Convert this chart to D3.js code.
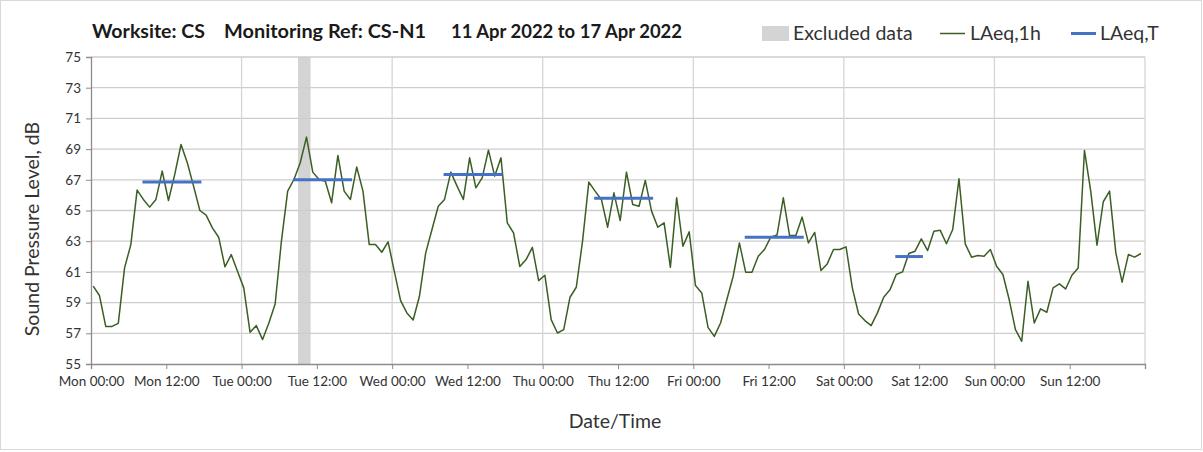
<!DOCTYPE html>
<html><head><meta charset="utf-8">
<script src="https://cdn.jsdelivr.net/npm/d3@7"></script>
<style>body{margin:0;background:#fff;font-family:Lato,"Open Sans",sans-serif;}</style>
</head><body><svg id="c" width="1203" height="452"></svg>
<script>
// ---- data ----
const laeq1h = [60.07,59.46,57.45,57.45,57.65,61.26,62.78,66.33,65.72,65.22,65.72,67.57,65.65,67.35,69.30,68.11,66.59,65.00,64.70,63.87,
63.26,61.33,62.13,61.04,59.96,57.07,57.50,56.59,57.67,58.91,63.00,66.26,67.02,68.11,69.78,67.50,67.02,66.91,65.50,68.59,
66.26,65.72,67.83,66.26,62.78,62.78,62.28,62.96,61.04,59.13,58.33,57.87,59.41,62.24,63.76,65.28,65.72,67.50,66.59,65.72,
68.43,66.48,67.13,68.93,67.24,68.43,64.20,63.54,61.35,61.80,62.60,60.43,60.78,57.89,57.02,57.24,59.35,60.00,63.00,66.85,
66.26,65.72,63.91,66.15,64.35,67.50,65.39,65.28,66.96,64.96,63.91,64.20,61.30,65.83,62.67,63.61,60.11,59.63,57.39,56.80,
57.67,59.20,60.70,62.89,60.98,60.98,62.02,62.46,63.26,63.40,65.83,63.37,63.37,64.57,62.89,63.57,61.09,61.52,62.46,62.46,
62.63,59.96,58.26,57.83,57.50,58.33,59.35,59.83,60.83,61.00,62.20,62.35,63.15,62.39,63.65,63.72,62.83,63.76,67.07,62.83,
61.96,62.07,62.02,62.46,61.37,60.83,59.20,57.24,56.48,60.39,57.67,58.59,58.37,59.96,60.22,59.89,60.78,61.26,68.91,66.26,
62.74,65.57,66.26,62.24,60.33,62.13,61.96,62.20];
const hourOffset = 0.35;              // timestamp offset of hourly values within each hour
const laeqTStart = [8.2, 32.2, 56.2, 80.2, 104.2, 128.2];
const laeqTEnd   = [17.6, 41.6, 65.6, 89.6, 113.6, 132.6];
const laeqTValues = [66.85, 67.0, 67.35, 65.8, 63.25, 62.0];
const excludedPeriod = [33, 35];
const xTickLabels = ["Mon 00:00","Mon 12:00","Tue 00:00","Tue 12:00","Wed 00:00","Wed 12:00","Thu 00:00","Thu 12:00",
  "Fri 00:00","Fri 12:00","Sat 00:00","Sat 12:00","Sun 00:00","Sun 12:00",""];
const yTicks = [55,57,59,61,63,65,67,69,71,73,75];
const titleParts = ["Worksite: CS","Monitoring Ref: CS-N1","11 Apr 2022 to 17 Apr 2022"];
const legendLabels = ["Excluded data","LAeq,1h","LAeq,T"];

// ---- drawing ----
const svg = d3.select("#c");
const F = "Lato, 'Open Sans', sans-serif";
svg.append("rect").attr("x",0.5).attr("y",0.5).attr("width",1201).attr("height",449)
  .attr("fill","#fff").attr("stroke","#d9d9d9");

const x = d3.scaleLinear().domain([0,168]).range([91,1145]);
const y = d3.scaleLinear().domain([55,75]).range([364,57]);

// excluded band
svg.append("rect").attr("x",x(excludedPeriod[0])).attr("y",y(75))
  .attr("width",x(excludedPeriod[1])-x(excludedPeriod[0])).attr("height",y(55)-y(75))
  .attr("fill","#d4d4d4");

// gridlines
svg.append("g").selectAll("line").data(yTicks.slice(1)).join("line")
  .attr("x1",x(0)).attr("x2",x(168)).attr("y1",d=>y(d)).attr("y2",d=>y(d))
  .attr("stroke","#cdcdcd").attr("stroke-width",1.3);
svg.append("g").selectAll("line").data(d3.range(24,169,24)).join("line")
  .attr("x1",d=>x(d)).attr("x2",d=>x(d)).attr("y1",y(55)).attr("y2",y(75))
  .attr("stroke","#d6d6d6").attr("stroke-width",1.3);

// axes
const xAxis = d3.axisBottom(x).tickValues(d3.range(0,169,12)).tickSize(5)
  .tickFormat((d,i)=>xTickLabels[i]);
const gx = svg.append("g").attr("transform",`translate(0,${y(55)})`).call(xAxis);
gx.select(".domain").attr("stroke","#8c8c8c").attr("stroke-width",1.3);
gx.selectAll(".tick line").attr("stroke","#8c8c8c");
gx.selectAll("text").attr("font-family",F).attr("font-size",13.5).attr("fill","#333").attr("dy","1.05em");

const yAxis = d3.axisLeft(y).tickValues(yTicks).tickSize(5).tickFormat(d3.format("d"));
const gy = svg.append("g").attr("transform",`translate(${x(0)},0)`).call(yAxis);
gy.select(".domain").attr("stroke","#8c8c8c").attr("stroke-width",1.3);
gy.selectAll(".tick line").attr("stroke","#8c8c8c");
gy.selectAll("text").attr("font-family",F).attr("font-size",13.5).attr("fill","#333").attr("x",-10);

// LAeq,1h line
const line = d3.line().x((d,i)=>x(i+hourOffset)).y(d=>y(d));
svg.append("path").datum(laeq1h).attr("d",line).attr("fill","none")
  .attr("stroke","#3b5e24").attr("stroke-width",1.5).attr("stroke-linejoin","round");

// LAeq,T segments
svg.append("g").selectAll("line").data(laeqTValues).join("line")
  .attr("x1",(d,i)=>x(laeqTStart[i])).attr("x2",(d,i)=>x(laeqTEnd[i]))
  .attr("y1",d=>y(d)).attr("y2",d=>y(d))
  .attr("stroke","#4472c4").attr("stroke-width",3);

// axis titles
svg.append("text").attr("x",615).attr("y",428).attr("text-anchor","middle")
  .attr("font-family",F).attr("font-size",19.5).attr("fill","#333").text("Date/Time");
svg.append("text").attr("transform","translate(39,229) rotate(-90)").attr("text-anchor","middle")
  .attr("font-family",F).attr("font-size",19.5).attr("fill","#333").text("Sound Pressure Level, dB");

// title
const tx = [92,224,451];
const tw = [113,202,231];
svg.append("g").selectAll("text").data(titleParts).join("text")
  .attr("x",(d,i)=>tx[i]).attr("y",38).attr("font-family",F).attr("font-weight","bold")
  .attr("font-size",18).attr("fill","#1a1a1a")
  .attr("textLength",(d,i)=>tw[i]).attr("lengthAdjust","spacingAndGlyphs").text(d=>d);

// legend
const lg = svg.append("g");
lg.append("rect").attr("x",762).attr("y",26).attr("width",27).attr("height",15).attr("fill","#d4d4d4");
lg.append("line").attr("x1",940).attr("x2",965).attr("y1",33.5).attr("y2",33.5).attr("stroke","#3b5e24").attr("stroke-width",1.5);
lg.append("line").attr("x1",1071).attr("x2",1096).attr("y1",33.5).attr("y2",33.5).attr("stroke","#4472c4").attr("stroke-width",3);
const lx = [793,970,1100];
lg.selectAll("text").data(legendLabels).join("text")
  .attr("x",(d,i)=>lx[i]).attr("y",40).attr("font-family",F).attr("font-size",19.5).attr("fill","#333").text(d=>d);
</script></body></html>
